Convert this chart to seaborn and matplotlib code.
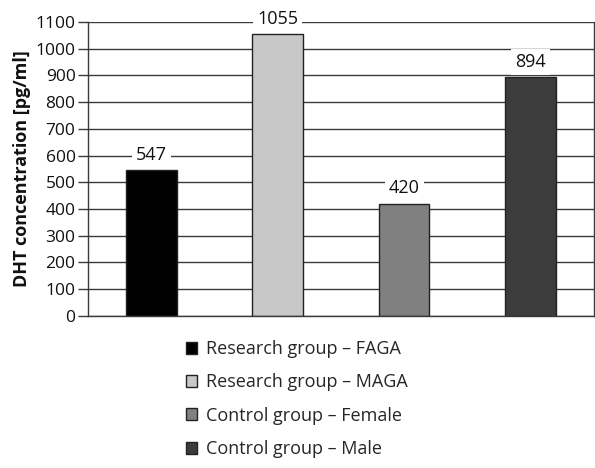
import matplotlib
matplotlib.use("Agg")
import matplotlib.pyplot as plt
import seaborn as sns
import pandas as pd

categories = ["Research group – FAGA", "Research group – MAGA",
              "Control group – Female", "Control group – Male"]
values = [547, 1055, 420, 894]
colors = ["#000000", "#c8c8c8", "#808080", "#3c3c3c"]
yticks = list(range(0, 1101, 100))

sns.set_theme(style="white")
plt.rcParams['font.family'] = ['Open Sans', 'DejaVu Sans']

df = pd.DataFrame({"group": categories, "value": values})

fig = plt.figure(figsize=(5.95, 4.68), dpi=100)
ax = fig.add_axes([0.148, 0.325, 0.85, 0.628])

ax.set_axisbelow(True)
for t in yticks:
    ax.axhline(t, color="#3a3a3a", lw=1.0, zorder=0)

sns.barplot(data=df, x="group", y="value", hue="group", palette=colors,
            width=0.4, edgecolor="#222222", linewidth=1.0, legend=True,
            saturation=1, ax=ax, zorder=2)

for i, v in enumerate(values):
    ax.text(i, v + 57, str(v), ha="center", va="center", fontsize=13,
            color="#111111",
            bbox=dict(facecolor="white", edgecolor="none", pad=3), zorder=3)

ax.set_ylim(0, 1100)
ax.set_xlim(-0.5, 3.5)
ax.set_yticks(yticks)
ax.tick_params(axis="y", left=True, length=7, width=1, color="#3a3a3a",
               labelsize=12.5, pad=2, labelcolor="#111111")
ax.set_xticks([])
ax.set_xlabel("")
ax.set_ylabel("DHT concentration [pg/ml]", fontsize=13, fontweight="bold",
              color="#111111", labelpad=3)
for s in ["left", "bottom", "right"]:
    ax.spines[s].set_visible(True)
    ax.spines[s].set_color("#3a3a3a")
    ax.spines[s].set_linewidth(1.0)
ax.spines["top"].set_visible(False)

handles, labels = ax.get_legend_handles_labels()
ax.legend_.remove()
fig.legend(handles, labels, loc="upper left", bbox_to_anchor=(0.297, 0.293),
           frameon=False, fontsize=13, handlelength=0.65, handleheight=0.65,
           handletextpad=0.45, labelspacing=0.85, borderpad=0)

fig.savefig("out.png", dpi=100)
